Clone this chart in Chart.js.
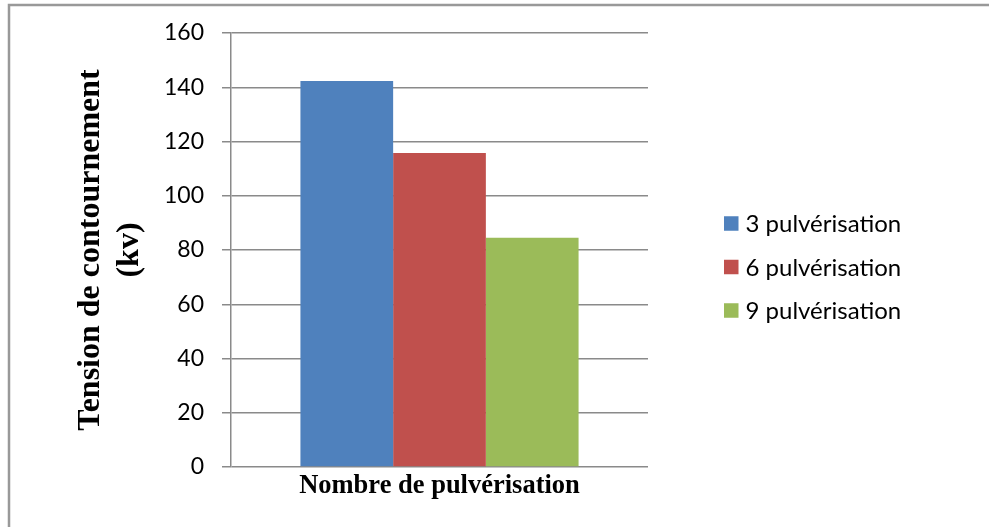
<!DOCTYPE html>
<html>
<head>
<meta charset="utf-8">
<script src="https://cdn.jsdelivr.net/npm/chart.js@4/dist/chart.umd.min.js"></script>
<style>
  html, body { margin: 0; padding: 0; background: #ffffff; overflow: hidden; }
  #wrap { position: relative; width: 989px; height: 527px; }
</style>
</head>
<body>
<div id="wrap"><canvas id="chart" width="989" height="527"></canvas></div>
<script>
// Flashover voltage by number of sprayings
const categories = [''];
const seriesNames = ['3 pulvérisation', '6 pulvérisation', '9 pulvérisation'];
const seriesValues = [[142.3], [115.8], [84.5]];
const seriesColors = ['#4F81BD', '#C0504D', '#9BBB59'];
const yTicks = [0, 20, 40, 60, 80, 100, 120, 140, 160];
const yTitle = ['Tension de contournement', '(kv)'];
const xTitle = 'Nombre de pulvérisation';

const GRID = '#8a8a8a';
const LABEL_FONT = 'Lato, "Open Sans", sans-serif';
const TITLE_FONT = '"Liberation Serif", "Times New Roman", serif';

// Outer frame of the chart object (top and left edges)
const framePlugin = {
  id: 'frame',
  beforeDraw(chart) {
    const ctx = chart.ctx;
    ctx.save();
    ctx.fillStyle = '#ffffff';
    ctx.fillRect(0, 0, chart.width, chart.height);
    ctx.strokeStyle = '#999999';
    ctx.lineWidth = 2.5;
    ctx.beginPath();
    ctx.moveTo(chart.width + 5, 5);
    ctx.lineTo(9, 5);
    ctx.lineTo(9, chart.height + 5);
    ctx.stroke();
    ctx.restore();
  }
};

// Legend block at the right of the plot
const sideLegend = {
  id: 'sideLegend',
  afterDraw(chart) {
    const ctx = chart.ctx;
    const x0 = 724, y0 = 223.5, step = 43.5, box = 14.5;
    ctx.save();
    ctx.font = '24px ' + LABEL_FONT;
    ctx.textBaseline = 'middle';
    ctx.textAlign = 'left';
    chart.data.datasets.forEach((ds, i) => {
      const cy = y0 + i * step;
      ctx.fillStyle = ds.backgroundColor;
      ctx.fillRect(x0, cy - box / 2, box, box);
      ctx.fillStyle = '#000000';
      ctx.fillText(ds.label, x0 + box + 7, cy + 1);
    });
    ctx.restore();
  }
};

new Chart(document.getElementById('chart'), {
  type: 'bar',
  data: {
    labels: categories,
    datasets: seriesNames.map((name, i) => ({
      label: name,
      data: seriesValues[i],
      backgroundColor: seriesColors[i],
      borderWidth: 0,
      categoryPercentage: 0.667,
      barPercentage: 1.0
    }))
  },
  options: {
    responsive: false,
    animation: false,
    devicePixelRatio: 1,
    layout: { padding: { left: 0, top: 33, right: 341, bottom: 0 } },
    plugins: {
      legend: { display: false },
      tooltip: { enabled: false }
    },
    scales: {
      x: {
        ticks: { display: false },
        grid: { display: false },
        border: { display: false },
        title: {
          display: true,
          text: xTitle,
          color: '#000000',
          font: { family: TITLE_FONT, size: 26.5, weight: 'bold', lineHeight: 1.2 },
          padding: { top: 0, bottom: 25 }
        },
        afterFit(scale) { scale.height = 60; }
      },
      y: {
        min: 0,
        max: 160,
        afterBuildTicks(scale) { scale.ticks = yTicks.map(v => ({ value: v })); },
        ticks: {
          color: '#000000',
          padding: 18,
          font: { family: LABEL_FONT, size: 23 }
        },
        grid: { color: GRID, lineWidth: 1.5, tickLength: 9, drawTicks: true },
        border: { display: true, color: GRID, width: 1.5 },
        title: {
          display: true,
          text: yTitle,
          color: '#000000',
          font: { family: TITLE_FONT, size: 32, weight: 'bold', lineHeight: 1.2 },
          padding: { top: 72, bottom: 0 }
        },
        afterFit(scale) { scale.width = 231; }
      }
    }
  },
  plugins: [framePlugin, sideLegend]
});
</script>
</body>
</html>
